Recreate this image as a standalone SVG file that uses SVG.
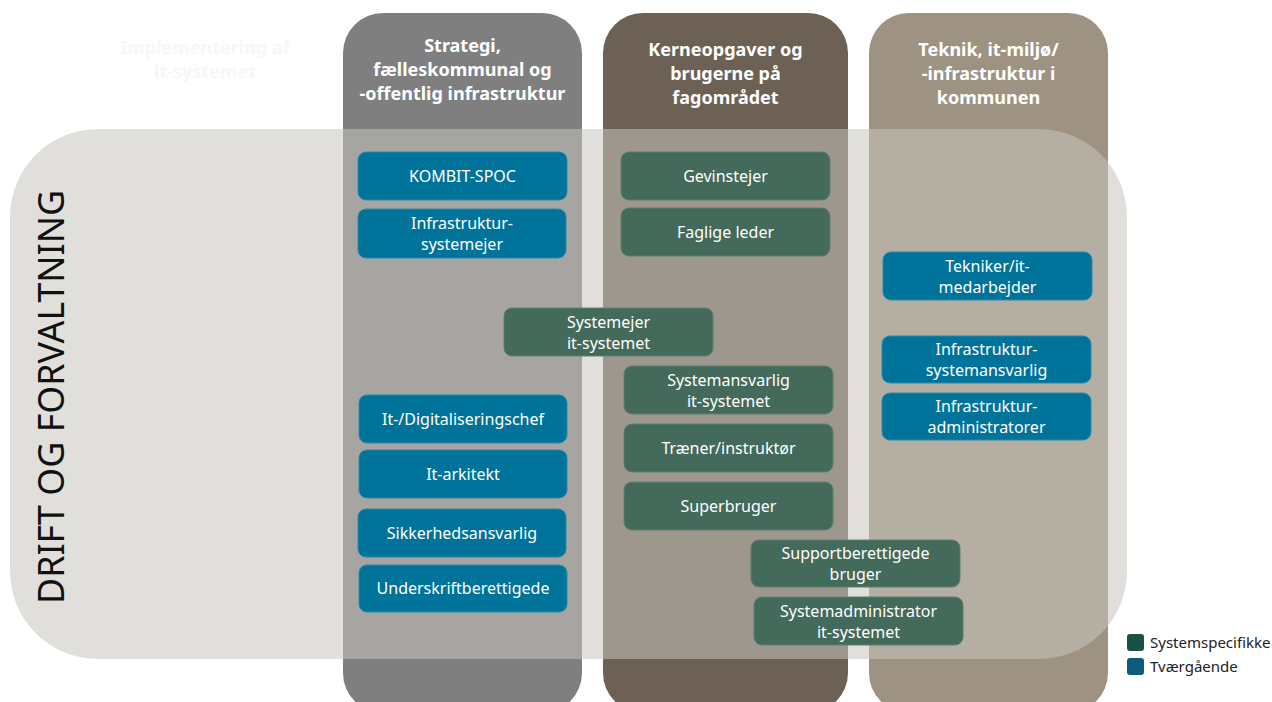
<svg xmlns="http://www.w3.org/2000/svg" width="1272" height="702" viewBox="0 0 1272 702">
<style>
.hdr{font-family:"Noto Sans","Open Sans","DejaVu Sans",sans-serif;font-size:18px;font-weight:bold;fill:#ffffff;text-anchor:middle}
.faint{font-family:"Noto Sans","Open Sans",sans-serif;font-size:18px;font-weight:bold;fill:#f7f7f7;text-anchor:middle}
.nt{font-family:"Noto Sans","Open Sans","DejaVu Sans",sans-serif;font-size:16px;fill:#ffffff;text-anchor:middle}
.blue{fill:#00739a;stroke:#2a89aa;stroke-width:1}
.green{fill:#436a5a;stroke:#5d8070;stroke-width:1}
.lg{font-family:"Noto Sans","Open Sans",sans-serif;font-size:15px;fill:#222222}
</style>
<rect width="1272" height="702" fill="#ffffff"/>
<text class="faint" x="205" y="54">Implementering af</text>
<text class="faint" x="205" y="78">it-systemet</text>
<g id="col-strategi">
<rect x="343" y="13" width="239" height="700" rx="40" fill="#7f7f7f"/>
<text class="hdr" x="462.5" y="52">Strategi,</text>
<text class="hdr" x="462.5" y="76">fælleskommunal og</text>
<text class="hdr" x="462.5" y="100">-offentlig infrastruktur</text>
</g>
<g id="col-kerne">
<rect x="603" y="13" width="245" height="700" rx="40" fill="#6c6154"/>
<text class="hdr" x="725.5" y="56">Kerneopgaver og</text>
<text class="hdr" x="725.5" y="80">brugerne på</text>
<text class="hdr" x="725.5" y="104">fagområdet</text>
</g>
<g id="col-teknik">
<rect x="869" y="13" width="239" height="700" rx="40" fill="#9e9283"/>
<text class="hdr" x="988.5" y="56">Teknik, it-miljø/</text>
<text class="hdr" x="988.5" y="80">-infrastruktur i</text>
<text class="hdr" x="988.5" y="104">kommunen</text>
</g>
<g id="band-drift">
<rect x="10" y="129" width="1117" height="530" rx="88" fill="#c8c4bd" fill-opacity="0.55"/>
<text x="64" y="397" transform="rotate(-90 64 397)" text-anchor="middle" font-family="Noto Sans, Open Sans, DejaVu Sans, sans-serif" font-size="36" fill="#111111" textLength="414" lengthAdjust="spacingAndGlyphs">DRIFT OG FORVALTNING</text>
</g>
<g id="connectors"/>
<g id="n-kombit"><rect class="blue" x="358" y="152" width="209" height="48" rx="8"/><text class="nt" x="462.5" y="182">KOMBIT-SPOC</text></g>
<g id="n-infra-ejer"><rect class="blue" x="358" y="209" width="208" height="49" rx="8"/><text class="nt" x="462" y="229">Infrastruktur-</text><text class="nt" x="462" y="250">systemejer</text></g>
<g id="n-itchef"><rect class="blue" x="359" y="395" width="208" height="48" rx="8"/><text class="nt" x="463" y="425">It-/Digitaliseringschef</text></g>
<g id="n-arkitekt"><rect class="blue" x="359" y="450" width="208" height="48" rx="8"/><text class="nt" x="463" y="480">It-arkitekt</text></g>
<g id="n-sikkerhed"><rect class="blue" x="358" y="509" width="208" height="48" rx="8"/><text class="nt" x="462" y="539">Sikkerhedsansvarlig</text></g>
<g id="n-underskrift"><rect class="blue" x="359" y="565" width="208" height="47" rx="8"/><text class="nt" x="463" y="594">Underskriftberettigede</text></g>
<g id="n-gevinst"><rect class="green" x="621" y="152" width="209" height="48" rx="8"/><text class="nt" x="725.5" y="182">Gevinstejer</text></g>
<g id="n-faglig"><rect class="green" x="621" y="208" width="209" height="48" rx="8"/><text class="nt" x="725.5" y="238">Faglige leder</text></g>
<g id="n-systemejer"><rect class="green" x="504" y="308" width="209" height="48" rx="8"/><text class="nt" x="608.5" y="328">Systemejer</text><text class="nt" x="608.5" y="349">it-systemet</text></g>
<g id="n-systemansvarlig"><rect class="green" x="624" y="366" width="209" height="48" rx="8"/><text class="nt" x="728.5" y="386">Systemansvarlig</text><text class="nt" x="728.5" y="407">it-systemet</text></g>
<g id="n-traener"><rect class="green" x="624" y="424" width="209" height="48" rx="8"/><text class="nt" x="728.5" y="454">Træner/instruktør</text></g>
<g id="n-superbruger"><rect class="green" x="624" y="482" width="209" height="48" rx="8"/><text class="nt" x="728.5" y="512">Superbruger</text></g>
<g id="n-support"><rect class="green" x="751" y="540" width="209" height="47" rx="8"/><text class="nt" x="855.5" y="559">Supportberettigede</text><text class="nt" x="855.5" y="580">bruger</text></g>
<g id="n-sysadmin"><rect class="green" x="754" y="597" width="209" height="48" rx="8"/><text class="nt" x="858.5" y="617">Systemadministrator</text><text class="nt" x="858.5" y="638">it-systemet</text></g>
<g id="n-tekniker"><rect class="blue" x="883" y="252" width="209" height="48" rx="8"/><text class="nt" x="987.5" y="272">Tekniker/it-</text><text class="nt" x="987.5" y="293">medarbejder</text></g>
<g id="n-infra-ansvarlig"><rect class="blue" x="882" y="336" width="209" height="47" rx="8"/><text class="nt" x="986.5" y="355">Infrastruktur-</text><text class="nt" x="986.5" y="376">systemansvarlig</text></g>
<g id="n-infra-admin"><rect class="blue" x="882" y="393" width="209" height="47" rx="8"/><text class="nt" x="986.5" y="412">Infrastruktur-</text><text class="nt" x="986.5" y="433">administratorer</text></g>
<g id="legend">
<rect x="1127" y="634" width="17" height="17" rx="3" fill="#1b5046"/>
<text class="lg" x="1150" y="648">Systemspecifikke</text>
<rect x="1127" y="658" width="17" height="17" rx="3" fill="#0b5b7c"/>
<text class="lg" x="1150" y="672">Tværgående</text>
</g>
</svg>
